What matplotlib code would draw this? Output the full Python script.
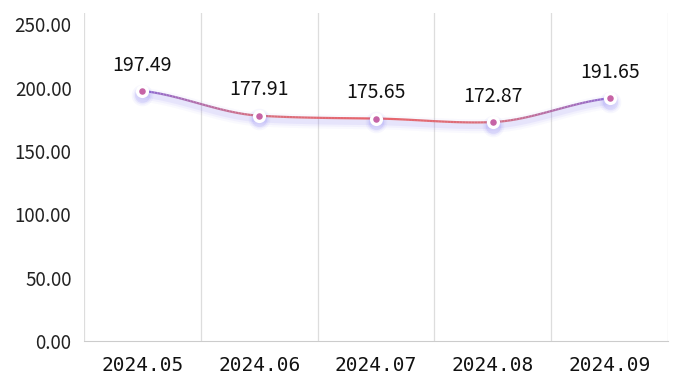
import numpy as np
import matplotlib
matplotlib.use("Agg")
import matplotlib.pyplot as plt
from matplotlib.collections import LineCollection
from matplotlib.colors import LinearSegmentedColormap

# data
months = ["2024.05", "2024.06", "2024.07", "2024.08", "2024.09"]
values = [197.49, 177.91, 175.65, 172.87, 191.65]
yticks = [0, 50, 100, 150, 200, 250]

plt.rcParams['font.family'] = ['Noto Sans CJK SC', 'DejaVu Sans']

fig = plt.figure(figsize=(6.83, 3.86), dpi=100)
ax = fig.add_axes([84/683, 1-341/386, 584/683, 328/386])

x = np.arange(len(values))
y = np.array(values)

# smooth curve (cardinal spline through the points)
def smooth(xp, yp, n=40, t=0.5):
    xs, ys = [], []
    m = len(xp)
    for i in range(m-1):
        p0 = yp[max(i-1, 0)]; p1 = yp[i]; p2 = yp[i+1]; p3 = yp[min(i+2, m-1)]
        m1 = t*(p2-p0)/(2 if 0 < i else 1)
        m2 = t*(p3-p1)/(2 if i+1 < m-1 else 1)
        s = np.linspace(0, 1, n)
        h00 = 2*s**3-3*s**2+1; h10 = s**3-2*s**2+s
        h01 = -2*s**3+3*s**2; h11 = s**3-s**2
        xs.append(xp[i] + s*(xp[i+1]-xp[i]))
        ys.append(h00*p1 + h10*m1 + h01*p2 + h11*m2)
    return np.concatenate(xs), np.concatenate(ys)

sx, sy = smooth(x, y)

cmap = LinearSegmentedColormap.from_list("ln", ["#8e6bd2", "#d9707e", "#e8646a", "#d9707e", "#8e6bd2"])

# glow / shadow below the line
for w, a in [(10, 0.04), (7, 0.06), (4, 0.09)]:
    ax.plot(sx, sy - 3, color="#7b6cf0", lw=w, alpha=a, solid_capstyle="round", zorder=2)

pts = np.array([sx, sy]).T.reshape(-1, 1, 2)
segs = np.concatenate([pts[:-1], pts[1:]], axis=1)
lc = LineCollection(segs, cmap=cmap, linewidth=1.6, zorder=3)
lc.set_array((sx[:-1] + sx[1:]) / 2 / (len(values) - 1))
lc.set_clim(0, 1)
ax.add_collection(lc)

# markers with glow
for s, a in [(240, 0.05), (170, 0.08), (120, 0.12)]:
    ax.scatter(x, y - 3, s=s, color="#6f63f2", alpha=a, lw=0, zorder=4)
ax.scatter(x, y, s=90, color="white", lw=0, zorder=5)
ax.scatter(x, y, s=22, color="#c663a6", lw=0, zorder=6)

for xi, yi in zip(x, y):
    ax.annotate(f"{yi:.2f}", (xi, yi), xytext=(0, 11), textcoords="offset points",
                ha="center", va="bottom", fontsize=14, color="#111111")

ax.set_xlim(-0.5, len(values) - 0.5)
ax.set_ylim(0, 259)
ax.set_yticks(yticks)
ax.set_yticklabels([f"{v:.2f}" for v in yticks], fontsize=13.5, color="#222222")
ax.set_xticks(x)
ax.set_xticklabels(months, fontsize=14, color="#111111", family="DejaVu Sans Mono")
ax.tick_params(length=0)
ax.tick_params(axis="x", pad=11)
ax.tick_params(axis="y", pad=9)

for b in np.arange(-0.5, len(values), 1.0):
    ax.axvline(b, color="#dddddd", lw=0.9, zorder=1)
for s in ["top", "right", "left"]:
    ax.spines[s].set_visible(False)
ax.spines["bottom"].set_color("#cccccc")

fig.savefig("out.png", dpi=100)
